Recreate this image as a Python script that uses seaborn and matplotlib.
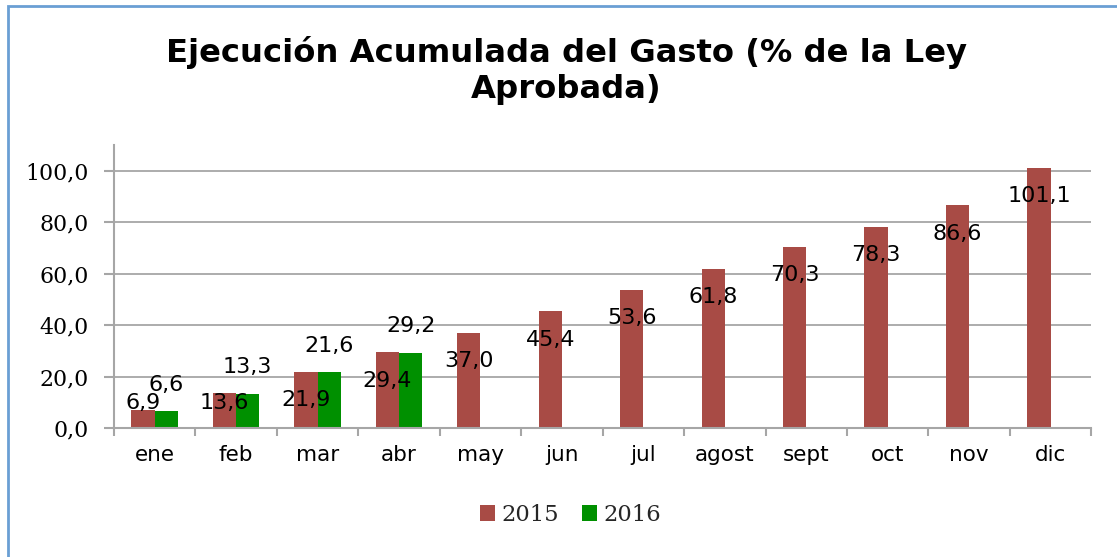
import matplotlib
matplotlib.use('Agg')
import matplotlib.pyplot as plt
import seaborn as sns
import pandas as pd
import numpy as np
from matplotlib.patches import Rectangle
from matplotlib.ticker import FixedLocator, FuncFormatter

months = ["ene", "feb", "mar", "abr", "may", "jun", "jul", "agost", "sept", "oct", "nov", "dic"]
v2015 = [6.9, 13.6, 21.9, 29.4, 37.0, 45.4, 53.6, 61.8, 70.3, 78.3, 86.6, 101.1]
v2016 = [6.6, 13.3, 21.6, 29.2]
years = ["2015", "2016"]
colors = ["#A84B45", "#009000"]
title = "Ejecución Acumulada del Gasto (% de la Ley\nAprobada)"
yticks = [0, 20, 40, 60, 80, 100]

rows = [(m, "2015", v) for m, v in zip(months, v2015)] + \
       [(m, "2016", v) for m, v in zip(months, v2016)]
df = pd.DataFrame(rows, columns=["mes", "año", "valor"])

sns.set_theme(style="white")
plt.rcParams['font.family'] = ['DejaVu Sans']

fig = plt.figure(figsize=(11.17, 5.57), dpi=100)
ax = fig.add_axes([0.102, 0.2316, 0.875, 0.508])
sns.barplot(data=df, x="mes", y="valor", hue="año", order=months, hue_order=years,
            palette=colors, width=0.57, saturation=1, ax=ax, errorbar=None, linewidth=0)

fmt = lambda v: f"{v:.1f}".replace('.', ',')
grid_c = "#A6A6A6"

ax.set_ylim(0, 110)
ax.set_xlim(-0.5, len(months) - 0.5)
ax.yaxis.set_major_locator(FixedLocator(yticks))
ax.yaxis.set_major_formatter(FuncFormatter(lambda v, p: fmt(v)))
ax.grid(axis='y', color=grid_c, lw=1.3)
ax.set_axisbelow(True)
for s in ['top', 'right']:
    ax.spines[s].set_visible(False)
for s in ['left', 'bottom']:
    ax.spines[s].set_color(grid_c)
    ax.spines[s].set_linewidth(1.5)
ax.set_xlabel("")
ax.set_ylabel("")

ax.set_xticks(range(len(months)))
ax.set_xticklabels(months)
ax.set_xticks(np.arange(-0.5, len(months), 1.0), minor=True)
ax.tick_params(axis='x', which='major', length=0, pad=12, labelsize=15.5, labelcolor='black')
ax.tick_params(axis='x', which='minor', length=6, width=1.5, color=grid_c, direction='out', bottom=True)
ax.tick_params(axis='y', which='major', length=7, width=1.5, color=grid_c, direction='out', left=True, pad=11)
for lab in ax.get_yticklabels():
    lab.set_fontfamily('DejaVu Serif')
    lab.set_fontsize(15.8)
    lab.set_color('black')

# data labels
off = 0.57 / 4
for i, v in enumerate(v2015):
    ax.text(i - off, max(v - 11, 9.7), fmt(v), ha='center', va='center', fontsize=16, color='black')
for i, v in enumerate(v2016):
    ax.annotate(fmt(v), (i + off, v), xytext=(0, 19), textcoords='offset points',
                ha='center', va='center', fontsize=16, color='black')

# legend
handles, labels = ax.get_legend_handles_labels()
if ax.get_legend() is not None:
    ax.get_legend().remove()
fig.legend(handles, labels, loc='center', bbox_to_anchor=(0.511, 0.0754), ncol=2, frameon=False,
           prop={'family': 'DejaVu Serif', 'size': 16.3}, handlelength=0.65, handleheight=0.65,
           handletextpad=0.3, columnspacing=1.0)

fig.text(0.507, 0.874, title, ha='center', va='center', fontsize=23.2, fontweight='bold',
         linespacing=1.2, color='black')

fig.add_artist(Rectangle((7.5 / 1117, -0.1), 1.2, 1.1 - 5.5 / 557, transform=fig.transFigure,
                         fill=False, edgecolor='#6A9FD4', lw=2, clip_on=False))

fig.savefig("out.png", dpi=100)
